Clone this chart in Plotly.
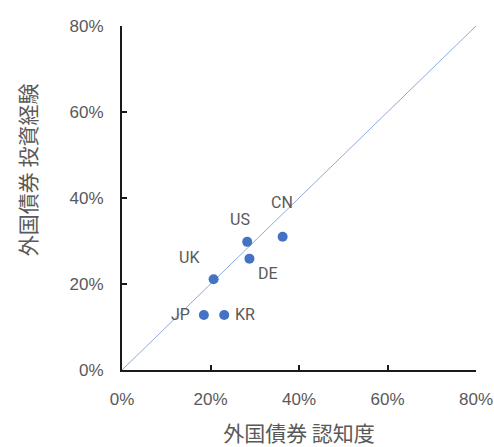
import plotly.graph_objects as go

# Country codes and their bond awareness (x) vs. investment experience (y)
countries = ["US", "CN", "DE", "UK", "JP", "KR"]
awareness = [0.283, 0.363, 0.288, 0.207, 0.185, 0.231]
experience = [0.298, 0.310, 0.259, 0.211, 0.128, 0.128]

tick_vals = [0, 0.2, 0.4, 0.6, 0.8]
tick_text = ["0%", "20%", "40%", "60%", "80%"]

x_title = "外国債券 認知度"
y_title = "外国債券 投資経験"

# label offsets (pixels) relative to each marker
label_shift = {
    "US": (-7, 22),
    "CN": (-1, 34),
    "DE": (19, -15),
    "UK": (-24, 22),
    "JP": (-23, 0),
    "KR": (21, 0),
}

grey = "#595959"
fig = go.Figure()

# 45-degree reference line
fig.add_trace(go.Scatter(
    x=[0, 0.8], y=[0, 0.8], mode="lines",
    line=dict(color="#8EA9DB", width=1), hoverinfo="skip", showlegend=False,
))

fig.add_trace(go.Scatter(
    x=awareness, y=experience, mode="markers",
    marker=dict(color="#4472C4", size=10), showlegend=False,
))

for c, xv, yv in zip(countries, awareness, experience):
    dx, dy = label_shift[c]
    fig.add_annotation(
        x=xv, y=yv, text=c, showarrow=False, xshift=dx, yshift=dy,
        font=dict(family="Roboto, sans-serif", size=16, color=grey),
    )

axis_common = dict(
    range=[0, 0.8], tickvals=tick_vals, ticktext=tick_text,
    showgrid=False, zeroline=False, showline=True, automargin=False,
    linecolor="#1a1a1a", linewidth=2, ticks="inside", ticklen=5,
    tickcolor="#1a1a1a", tickwidth=2,
    tickfont=dict(family="Liberation Sans, Arial, sans-serif", size=17, color=grey),
)

title_font = dict(family="Noto Sans CJK JP", size=21, color=grey)

# vertical axis title, placed as a rotated paper annotation
fig.add_annotation(
    xref="paper", yref="paper", x=-0.268, y=0.581, text=y_title,
    textangle=-90, showarrow=False, font=title_font,
    xanchor="center", yanchor="middle",
)

fig.update_layout(
    width=494, height=447,
    margin=dict(l=122, r=18, t=26, b=77),
    plot_bgcolor="white", paper_bgcolor="white",
    xaxis=dict(**axis_common, ticklabelstandoff=13,
               title=dict(text=x_title, standoff=19, font=title_font)),
    yaxis=dict(**axis_common, ticklabelstandoff=13),
)

fig.write_html("out.html")
